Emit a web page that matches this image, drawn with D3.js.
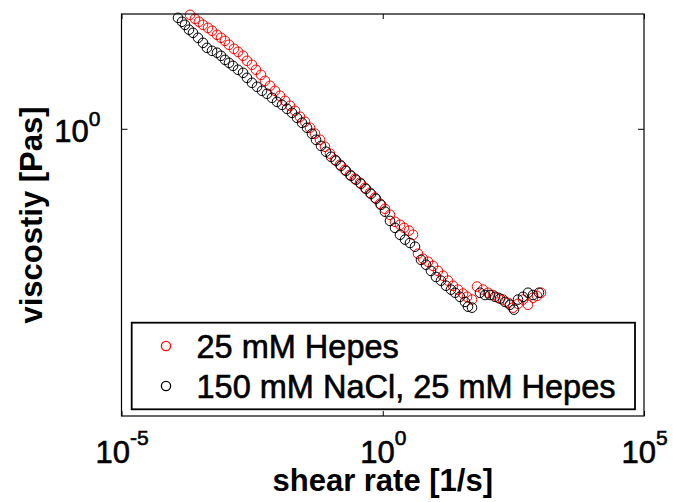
<!DOCTYPE html>
<html>
<head>
<meta charset="utf-8">
<script src="https://cdn.jsdelivr.net/npm/d3@7"></script>
<style>
  body { margin: 0; background: #fff; }
  text { font-family: "Liberation Sans", Arial, Helvetica, sans-serif; fill: #000; }
  .heavy { stroke: #000; stroke-width: 0.6px; }
</style>
</head>
<body>
<svg width="673" height="502"></svg>
<script>
// series: shear rate [1/s] and viscosity [Pas]
var seriesNames = ["25 mM Hepes", "150 mM NaCl, 25 mM Hepes"];

var hepesRate = [2.05e-4, 2.55e-4, 3.04e-4, 3.63e-4, 4.52e-4, 5.40e-4, 6.73e-4, 8.02e-4, 9.57e-4, 1.141e-3,
  1.42e-3, 1.70e-3, 2.12e-3, 2.52e-3, 3.14e-3, 3.75e-3, 4.68e-3, 5.58e-3, 6.95e-3, 8.67e-3,
  1.08e-2, 1.35e-2, 1.68e-2, 2.09e-2, 2.61e-2, 3.25e-2, 4.05e-2, 5.05e-2, 6.30e-2, 7.85e-2,
  0.0978, 0.122, 0.152, 0.189, 0.236, 0.294, 0.367, 0.457, 0.570, 0.711,
  0.886, 1.104, 1.376, 1.716, 2.138, 2.552, 3.18, 3.794, 4.73, 5.89,
  7.35, 9.16, 11.41, 14.23, 17.74, 22.1, 27.6, 34.4, 41.0, 51.1,
  63.7, 82.9, 103.4, 128.8, 160.6, 200.1, 249.5, 311, 388, 483,
  603, 751, 896, 1069];
var hepesVisc = [1.921, 1.877, 1.846, 1.814, 1.783, 1.753, 1.713, 1.684, 1.655, 1.618,
  1.581, 1.554, 1.519, 1.476, 1.443, 1.402, 1.362, 1.316, 1.279, 1.243,
  1.208, 1.174, 1.141, 1.109, 1.071, 1.041, 1.006, 0.972, 0.939, 0.902,
  0.867, 0.837, 0.814, 0.791, 0.768, 0.751, 0.734, 0.713, 0.693, 0.674,
  0.651, 0.632, 0.611, 0.587, 0.577, 0.567, 0.558, 0.545, 0.489, 0.475,
  0.467, 0.456, 0.443, 0.431, 0.419, 0.407, 0.398, 0.389, 0.382, 0.376,
  0.405, 0.398, 0.391, 0.386, 0.380, 0.376, 0.369, 0.359, 0.367, 0.376,
  0.365, 0.380, 0.384, 0.391];

var naclRate = [1.206e-4, 1.438e-4, 1.642e-4, 1.958e-4, 2.336e-4, 2.912e-4, 3.63e-4, 4.33e-4, 5.40e-4, 6.73e-4,
  8.02e-4, 9.57e-4, 1.141e-3, 1.361e-3, 1.70e-3, 2.12e-3, 2.52e-3, 3.14e-3, 3.92e-3, 4.89e-3,
  6.09e-3, 7.59e-3, 9.47e-3, 1.18e-2, 1.471e-2, 1.834e-2, 2.285e-2, 2.848e-2, 3.55e-2, 4.42e-2,
  5.28e-2, 6.58e-2, 8.20e-2, 0.1022, 0.1274, 0.1589, 0.198, 0.247, 0.308, 0.383,
  0.478, 0.596, 0.743, 0.926, 1.104, 1.376, 1.716, 2.138, 2.667, 3.323,
  4.14, 5.40, 6.73, 8.38, 10.45, 13.02, 16.24, 20.2, 24.2, 30.1,
  37.5, 42.8, 51.1, 72.6, 90.6, 112.9, 140.7, 175.4, 218.6, 272.5,
  325, 388, 483, 603, 751, 978];
var naclVisc = [1.888, 1.846, 1.814, 1.764, 1.733, 1.684, 1.636, 1.590, 1.563, 1.546,
  1.519, 1.484, 1.459, 1.434, 1.402, 1.378, 1.339, 1.301, 1.272, 1.243,
  1.222, 1.194, 1.167, 1.147, 1.121, 1.096, 1.065, 1.035, 1.006, 0.972,
  0.939, 0.907, 0.877, 0.852, 0.833, 0.809, 0.786, 0.764, 0.747, 0.730,
  0.709, 0.689, 0.670, 0.647, 0.622, 0.590, 0.567, 0.545, 0.530, 0.520,
  0.509, 0.472, 0.459, 0.443, 0.428, 0.419, 0.407, 0.398, 0.391, 0.382,
  0.371, 0.361, 0.359, 0.391, 0.386, 0.386, 0.382, 0.378, 0.371, 0.365,
  0.355, 0.376, 0.382, 0.391, 0.386, 0.391];

var xTicks = [1e-5, 1, 1e5];
var xTickExp = ["-5", "0", "5"];
var yTicks = [1];
var yTickExp = ["0"];

var svg = d3.select("svg");
var plotL = 121.5, plotR = 644, plotT = 14, plotB = 416;

var x = d3.scaleLog().domain([1e-5, 1e5]).range([plotL, plotR]);
var y = d3.scaleLog().domain([0.193, 1.93]).range([plotB, plotT]);

// data, red first so black sits on top
var series = [
  { rate: hepesRate, visc: hepesVisc, color: "#ff0000" },
  { rate: naclRate, visc: naclVisc, color: "#000000" }
];

series.forEach(function(s) {
  svg.append("g").selectAll("circle")
    .data(s.rate)
    .enter().append("circle")
      .attr("cx", function(d) { return x(d); })
      .attr("cy", function(d, i) { return y(s.visc[i]); })
      .attr("r", 4.8)
      .attr("fill", "none")
      .attr("stroke", s.color)
      .attr("stroke-width", 1);
});

// axes, ticks pointing inward like matlab
function tickAxis(g, axis) {
  g.call(axis);
  g.select(".domain").remove();
  g.selectAll(".tick line").attr("stroke", "#000").attr("stroke-width", 1);
}

var xb = svg.append("g").attr("transform", "translate(0," + plotB + ")");
tickAxis(xb, d3.axisBottom(x).tickValues(xTicks).tickSizeInner(-5).tickSizeOuter(0).tickFormat(""));
var xt = svg.append("g").attr("transform", "translate(0," + plotT + ")");
tickAxis(xt, d3.axisTop(x).tickValues(xTicks).tickSizeInner(-5).tickSizeOuter(0).tickFormat(""));
var yl = svg.append("g").attr("transform", "translate(" + plotL + ",0)");
tickAxis(yl, d3.axisLeft(y).tickValues(yTicks).tickSizeInner(-6).tickSizeOuter(0).tickFormat(""));
var yr = svg.append("g").attr("transform", "translate(" + plotR + ",0)");
tickAxis(yr, d3.axisRight(y).tickValues(yTicks).tickSizeInner(-6).tickSizeOuter(0).tickFormat(""));
xt.selectAll(".tick text").remove();
yr.selectAll(".tick text").remove();

// power-of-ten labels
xb.selectAll(".tick text").remove();
xb.selectAll(".tick").each(function(d, i) {
  var t = d3.select(this).append("text")
    .attr("class", "heavy")
    .attr("y", 47)
    .attr("text-anchor", "middle")
    .style("font-size", "31px");
  t.append("tspan").text("10");
  t.append("tspan").attr("dy", -18).style("font-size", "21px").text(xTickExp[i]);
});

yl.selectAll(".tick text").remove();
yl.selectAll(".tick").each(function(d, i) {
  var t = d3.select(this).append("text")
    .attr("class", "heavy")
    .attr("x", -21)
    .attr("y", 12.5)
    .attr("text-anchor", "end")
    .style("font-size", "31px");
  t.append("tspan").text("10");
  t.append("tspan").attr("dy", -16).style("font-size", "21px").text(yTickExp[i]);
});

// frame
svg.append("rect")
  .attr("x", plotL).attr("y", plotT)
  .attr("width", plotR - plotL).attr("height", plotB - plotT)
  .attr("fill", "none").attr("stroke", "#000").attr("stroke-width", 1.2);

// axis titles
svg.append("text")
  .attr("x", (plotL + plotR) / 2).attr("y", 491)
  .attr("text-anchor", "middle")
  .style("font-size", "31px").style("font-weight", "bold")
  .text("shear rate [1/s]");

svg.append("text")
  .attr("transform", "translate(42," + (plotT + plotB) / 2 + ") rotate(-90)")
  .attr("text-anchor", "middle")
  .style("font-size", "31px").style("font-weight", "bold")
  .text("viscostiy [Pas]");

// legend
var legend = svg.append("g");
legend.append("rect")
  .attr("x", 131.7).attr("y", 322.7)
  .attr("width", 635 - 131.7).attr("height", 409.3 - 322.7)
  .attr("fill", "#fff").attr("stroke", "#000").attr("stroke-width", 1.8);

seriesNames.forEach(function(name, i) {
  var cy = 346 + i * 40;
  legend.append("circle")
    .attr("cx", 166).attr("cy", cy).attr("r", 4.6)
    .attr("fill", "none").attr("stroke", series[i].color).attr("stroke-width", 1.3);
  legend.append("text")
    .attr("class", "heavy")
    .attr("x", 196.5).attr("y", cy + 12)
    .style("font-size", "32.5px")
    .text(name);
});
</script>
</body>
</html>
